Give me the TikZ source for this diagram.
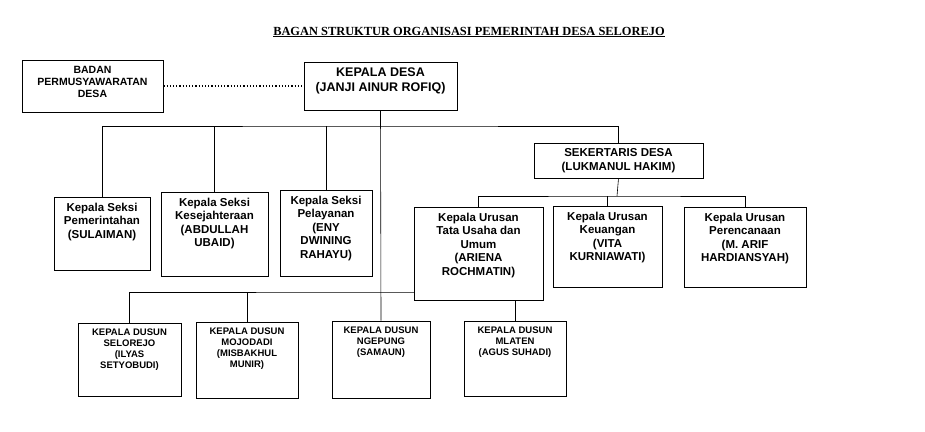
\documentclass[tikz,border=0pt]{standalone}
\usepackage{fontspec}
\setmainfont{Liberation Sans}
\newfontfamily\judul{Liberation Serif}
\usetikzlibrary{positioning,backgrounds}
\tikzset{
  kotak/.style={draw, thick, fill=white, inner sep=0pt},
  isi/.style={below=6pt, align=center, font=\bfseries, inner sep=0pt},
  garis/.style={semithick},
}
% box: name, left, top, right, bottom, font size, baseline, text
\newcommand{\kotak}[8]{%
  \node[kotak, minimum width=#4-#2, minimum height=#5-#3] (#1) at ({(#2+#4)/2},{(#3+#5)/2}) {};
  \node[isi, font=\bfseries\fontsize{#6}{#7}\selectfont] (#1-t) at (#1.north) {#8};}
\begin{document}
\begin{tikzpicture}[x=1pt,y=-1pt]
   \useasboundingbox (0,0) rectangle (925,431);

   % title
   \node[font=\judul\bfseries\fontsize{12.4}{14}\selectfont] (judul) at (469,32)
      {\underline{BAGAN STRUKTUR ORGANISASI PEMERINTAH DESA SELOREJO}};

   % top level
   \kotak{bpd}{22}{60}{163}{112}{10.5}{12}{BADAN\\PERMUSYAWARATAN\\DESA}
   \kotak{kades}{304}{62}{457}{110}{12.5}{14.5}{KEPALA DESA\\(JANJI AINUR ROFIQ)}
   \draw[very thick, dotted] (bpd.east) -- (kades.west);

   % kepala seksi
   \kotak{ksp}{54}{197}{150}{270}{11.5}{13.5}{Kepala Seksi\\Pemerintahan\\(SULAIMAN)}
   \kotak{kss}{161}{192}{268}{276}{11.5}{13.5}{Kepala Seksi\\Kesejahteraan\\(ABDULLAH\\UBAID)}
   \kotak{ksl}{280}{190}{372}{276}{11.5}{13.5}{Kepala Seksi\\Pelayanan\\(ENY\\DWINING\\RAHAYU)}

   % sekretaris and urusan
   \kotak{sekdes}{534}{143}{703}{178}{11.5}{13.5}{SEKERTARIS DESA\\(LUKMANUL HAKIM)}
   \kotak{kutu}{414}{207}{543}{300}{11.5}{13.5}{Kepala Urusan\\Tata Usaha dan\\Umum\\(ARIENA\\ROCHMATIN)}
   \kotak{kuk}{553}{206}{662}{287}{11.5}{13.5}{Kepala Urusan\\Keuangan\\(VITA\\KURNIAWATI)}
   \kotak{kup}{684}{207}{806}{287}{11.5}{13.5}{Kepala Urusan\\Perencanaan\\(M. ARIF\\HARDIANSYAH)}

   % kepala dusun
   \kotak{kdsel}{78}{323}{181}{396}{9.5}{11}{KEPALA DUSUN\\SELOREJO\\(ILYAS\\SETYOBUDI)}
   \kotak{kdmoj}{196}{322}{298}{398}{9.5}{11}{KEPALA DUSUN\\MOJODADI\\(MISBAKHUL\\MUNIR)}
   \kotak{kdnge}{332}{321}{430}{398}{9.5}{11}{KEPALA DUSUN\\NGEPUNG\\(SAMAUN)}
   \kotak{kdmla}{464}{321}{566}{396}{9.5}{11}{KEPALA DUSUN\\MLATEN\\(AGUS SUHADI)}

   % connectors
   \begin{scope}[on background layer]
   \draw[garis] (kades.south) -- (kdnge.north);
   \draw[garis] (ksp.north) |- (380,126) -| (sekdes.north);
   \draw[garis] (kss.north) -- (kss.north |- 0,126);
   \draw[garis] (ksl.north) -- (ksl.north |- 0,126);
   \draw[garis] (sekdes.south) -- (617,196);
   \draw[garis] (kutu.north) |- (617,196) -| (kup.north);
   \draw[garis] (kuk.north) -- (kuk.north |- 0,196);
   \draw[garis] (kdsel.north) |- (380,292) -| (kdmla.north);
   \draw[garis] (kdmoj.north) -- (kdmoj.north |- 0,292);
   \end{scope}
\end{tikzpicture}
\end{document}
